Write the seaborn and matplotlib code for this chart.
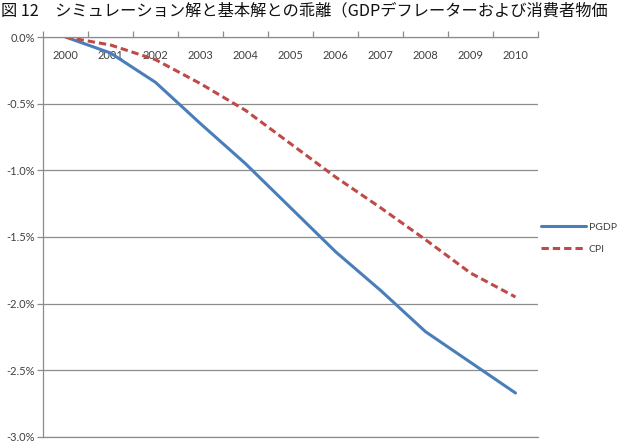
import matplotlib
matplotlib.use("Agg")
import matplotlib.pyplot as plt
import numpy as np
import seaborn as sns
from matplotlib.ticker import FuncFormatter, FixedLocator

# データ
years = ["2000", "2001", "2002", "2003", "2004", "2005",
         "2006", "2007", "2008", "2009", "2010"]
pgdp = [0.00, -0.12, -0.34, -0.65, -0.95, -1.28,
        -1.61, -1.90, -2.21, -2.44, -2.67]
cpi = [0.00, -0.06, -0.17, -0.35, -0.55, -0.80,
       -1.05, -1.28, -1.52, -1.77, -1.95]
title = "図 12　シミュレーション解と基本解との乖離（GDPデフレーターおよび消費者物価"

sns.set_style("white")
plt.rcParams["font.family"] = ["Lato", "DejaVu Sans"]

W, H = 618, 447
fig = plt.figure(figsize=(W / 100, H / 100), dpi=100)
ax = fig.add_axes([43 / W, 10 / H, (538 - 43) / W, 400 / H])

x = np.arange(len(years))
blue = "#4a7ebb"
red = "#be4b48"
sns.lineplot(x=x, y=pgdp, ax=ax, color=blue, linewidth=2.2, label="PGDP")
sns.lineplot(x=x, y=cpi, ax=ax, color=red, linewidth=2.2, label="CPI")
ax.lines[-1].set_dashes((2.4, 1.3))

grid_c = "#8c8c8c"
ax.set_xlim(-0.5, len(years) - 0.5)
ax.set_ylim(-3.0, 0.0)
ax.set_yticks(np.arange(-3.0, 0.01, 0.5))
ax.yaxis.set_major_formatter(FuncFormatter(lambda v, p: f"{v:.1f}%"))
ax.yaxis.grid(True, color=grid_c, linewidth=0.9)
ax.tick_params(axis="y", left=True, length=4, width=0.9, color=grid_c,
               labelsize=8, labelcolor="#404040", pad=2)

# x軸は上側（0%の位置）、ラベルは軸の下に
ax.xaxis.set_ticks_position("top")
ax.set_xticks(x)
ax.set_xticklabels(years)
ax.xaxis.set_minor_locator(FixedLocator(np.arange(-0.5, len(years), 1.0)))
ax.tick_params(axis="x", which="major", top=True, bottom=False, length=0,
               labeltop=True, labelbottom=False, labelsize=8,
               labelcolor="#404040", pad=-17)
ax.tick_params(axis="x", which="minor", top=True, bottom=False, length=4,
               width=0.9, color=grid_c, direction="out")
ax.set_xlabel("")
ax.set_ylabel("")

for side in ["left", "top", "bottom"]:
    ax.spines[side].set_color(grid_c)
    ax.spines[side].set_linewidth(0.9)
ax.spines["right"].set_visible(False)

handles, labels = ax.get_legend_handles_labels()
ax.get_legend().remove()
fig.legend(handles, labels, loc="center left",
           bbox_to_anchor=(541 / W, 1 - 238 / H), frameon=False,
           fontsize=7.5, handlelength=4.3, labelspacing=1.2,
           handletextpad=0.3, borderpad=0, borderaxespad=0,
           labelcolor="#404040")

fig.text(0.002, 1 - 11 / H, title, fontsize=11.7, va="center", ha="left",
         family=["Noto Sans CJK JP", "DejaVu Sans"], color="#111111")

fig.savefig("out.png", dpi=100)
